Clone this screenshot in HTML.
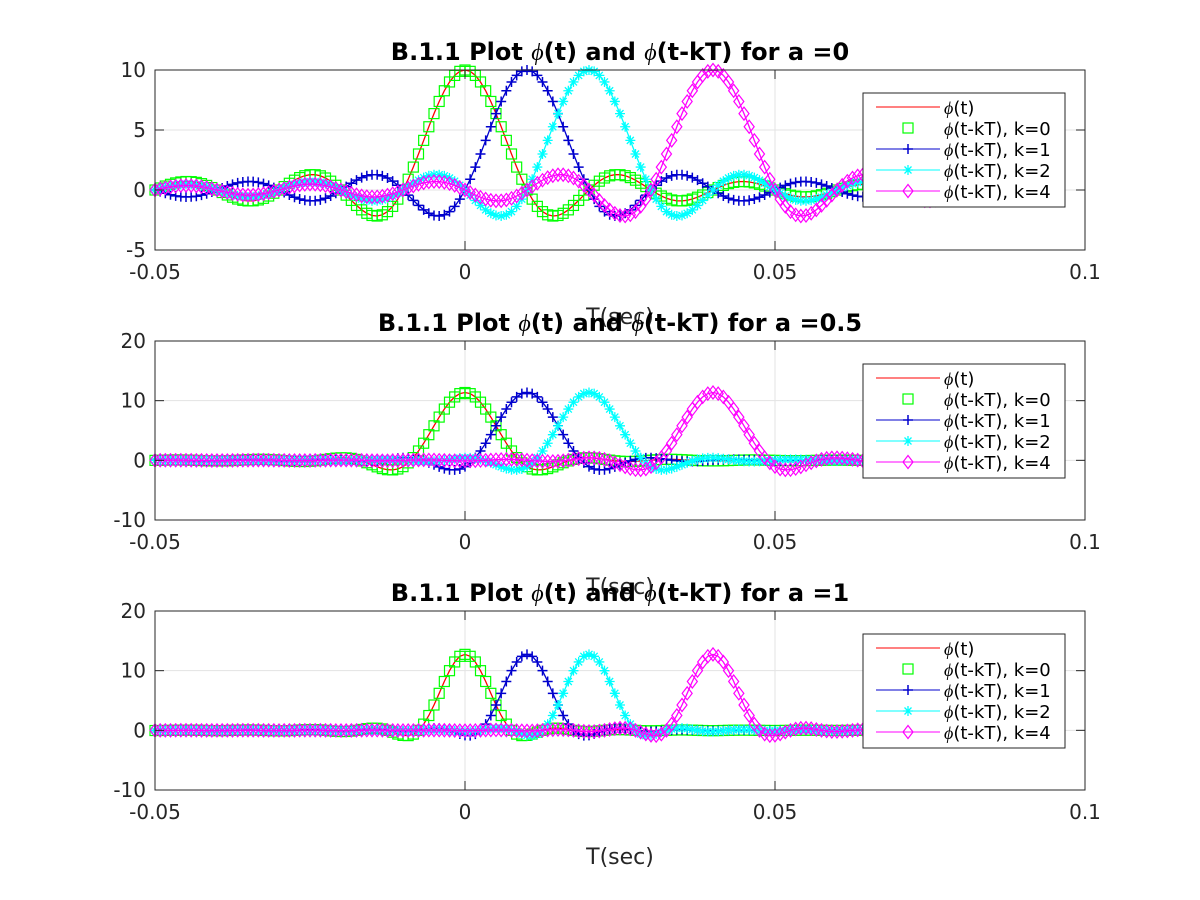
<!DOCTYPE html>
<html><head><meta charset="utf-8">
<style>
html,body{margin:0;padding:0;background:#fff;}
svg{display:block;font-family:"DejaVu Sans","Liberation Sans",sans-serif;}
</style></head>
<body>
<svg id="fig" width="1200" height="900" viewBox="0 0 1200 900"></svg>
<script>
// ---- data ----
const alphas = [0, 0.5, 1];
const titleAlphaLabels = ["0", "0.5", "1"];
const shifts = [0, 1, 2, 4];
const symbolPeriod = 0.01;
const tStart = -0.05;
const tEnd = 0.08;
const sampleStep = 0.01 / 12;
const xTicks = [-0.05, 0, 0.05, 0.1];
const xTickLabels = ["-0.05", "0", "0.05", "0.1"];
const yTicksTop = [-5, 0, 5, 10];
const yTicksOther = [-10, 0, 10, 20];
const yRanges = [[-5, 10], [-10, 20], [-10, 20]];
const legendLabels = ["(t)", "(t-kT), k=0", "(t-kT), k=1", "(t-kT), k=2", "(t-kT), k=4"];

// ---- layout ----
const NS = "http://www.w3.org/2000/svg";
const svg = document.getElementById("fig");
const axL = 155, axR = 1085;
const panels = [{top:70,bottom:250},{top:341,bottom:520},{top:611,bottom:790}];
const colors = ["#00ff00", "#0000cd", "#00ffff", "#ff00ff"];
const markers = ["square", "plus", "star", "diamond"];

function el(tag, attrs, parent){
  const e = document.createElementNS(NS, tag);
  for (const k in attrs) e.setAttribute(k, attrs[k]);
  (parent || svg).appendChild(e);
  return e;
}
function srrc(t, a, T){
  const x = t / T;
  const s = 1 / Math.sqrt(T);
  if (Math.abs(x) < 1e-9) return s * (1 - a + 4 * a / Math.PI);
  if (a > 0 && Math.abs(Math.abs(x) - 1 / (4 * a)) < 1e-9) {
    return s * (a / Math.SQRT2) * ((1 + 2 / Math.PI) * Math.sin(Math.PI / (4 * a)) + (1 - 2 / Math.PI) * Math.cos(Math.PI / (4 * a)));
  }
  const num = Math.sin(Math.PI * x * (1 - a)) + 4 * a * x * Math.cos(Math.PI * x * (1 + a));
  const den = Math.PI * x * (1 - Math.pow(4 * a * x, 2));
  return s * num / den;
}
function drawMarker(g, type, x, y, color, size){
  const r = size;
  if (type === "square") el("rect", {x:x-r, y:y-r, width:2*r, height:2*r, fill:"none", stroke:color, "stroke-width":1.2}, g);
  else if (type === "plus") el("path", {d:`M${x-r} ${y}H${x+r}M${x} ${y-r}V${y+r}`, stroke:color, "stroke-width":1.5, fill:"none"}, g);
  else if (type === "star") el("path", {d:`M${x-r} ${y}H${x+r}M${x} ${y-r}V${y+r}M${x-r*0.7} ${y-r*0.7}L${x+r*0.7} ${y+r*0.7}M${x-r*0.7} ${y+r*0.7}L${x+r*0.7} ${y-r*0.7}`, stroke:color, "stroke-width":1.3, fill:"none"}, g);
  else if (type === "diamond") el("path", {d:`M${x} ${y-r*1.3}L${x+r} ${y}L${x} ${y+r*1.3}L${x-r} ${y}Z`, stroke:color, "stroke-width":1.2, fill:"none"}, g);
}
function phiText(parent, x, y, size, rest, attrs){
  const t = el("text", Object.assign({x:x, y:y, "font-size":size}, attrs || {}), parent);
  const s = el("tspan", {"font-family":"'Liberation Serif',serif", "font-style":"italic"}, t);
  s.textContent = "ϕ";
  const r = el("tspan", {}, t);
  r.textContent = rest;
  return t;
}

panels.forEach((p, pi) => {
  const [y0, y1] = yRanges[pi];
  const xs = v => axL + (v - xTicks[0]) / (xTicks[3] - xTicks[0]) * (axR - axL);
  const ys = v => p.bottom - (v - y0) / (y1 - y0) * (p.bottom - p.top);
  const g = el("g", {});
  
  
  el("rect", {x:axL, y:p.top, width:axR-axL, height:p.bottom-p.top, fill:"#fff"}, g);
  const yt = pi === 0 ? yTicksTop : yTicksOther;
  xTicks.forEach(v => el("line", {x1:xs(v), x2:xs(v), y1:p.top, y2:p.bottom, stroke:"#e3e3e3", "stroke-width":1}, g));
  yt.forEach(v => el("line", {x1:axL, x2:axR, y1:ys(v), y2:ys(v), stroke:"#e3e3e3", "stroke-width":1}, g));
  const a = alphas[pi];
  const ts = [];
  for (let t = tStart; t <= tEnd + 1e-9; t += sampleStep) ts.push(t);
  const redPts = ts.map(t => xs(t).toFixed(1) + "," + ys(srrc(t, a, symbolPeriod)).toFixed(1)).join(" ");
  const red = el("polyline", {points:redPts, fill:"none", stroke:"#ff0000", "stroke-width":1.3}, g);
  
  
  shifts.forEach((k, si) => {
    const sg = el("g", {}, g);
    
    
    const pts = ts.map(t => [xs(t), ys(srrc(t - k * symbolPeriod, a, symbolPeriod))]);
    if (si > 0) el("polyline", {points:pts.map(q => q[0].toFixed(1)+","+q[1].toFixed(1)).join(" "), fill:"none", stroke:colors[si], "stroke-width":1.3}, sg);
    pts.forEach(q => drawMarker(sg, markers[si], q[0], q[1], colors[si], 5));
  });
  el("rect", {x:axL, y:p.top, width:axR-axL, height:p.bottom-p.top, fill:"none", stroke:"#262626", "stroke-width":1}, g);
  xTicks.forEach((v, i) => {
    el("line", {x1:xs(v), x2:xs(v), y1:p.bottom, y2:p.bottom-9, stroke:"#262626"}, g);
    el("line", {x1:xs(v), x2:xs(v), y1:p.top, y2:p.top+9, stroke:"#262626"}, g);
    const tl = el("text", {x:xs(v), y:p.bottom+29, "text-anchor":"middle", "font-size":20, fill:"#262626"}, g);
    tl.textContent = xTickLabels[i];
    
    
  });
  yt.forEach(v => {
    el("line", {x1:axL, x2:axL+9, y1:ys(v), y2:ys(v), stroke:"#262626"}, g);
    el("line", {x1:axR, x2:axR-9, y1:ys(v), y2:ys(v), stroke:"#262626"}, g);
    const tl = el("text", {x:axL-9, y:ys(v)+7, "text-anchor":"end", "font-size":20, fill:"#262626"}, g);
    tl.textContent = String(v);
    
    
  });
  const xl = el("text", {x:620, y:p.bottom+74, "text-anchor":"middle", "font-size":22, fill:"#262626"}, g);
  xl.textContent = "T(sec)";
  
  
  const ti = el("text", {x:620, y:p.top-10, "text-anchor":"middle", "font-size":24, "font-weight":"bold", fill:"#000"}, g);
  
  
  const parts = ["B.1.1 Plot ", "ϕ", "(t) and ", "ϕ", "(t-kT) for a =" + titleAlphaLabels[pi]];
  parts.forEach(s => {
    const sp = el("tspan", s === "ϕ" ? {"font-family":"'Liberation Serif',serif", "font-style":"italic", "font-weight":"normal"} : {}, ti);
    sp.textContent = s;
  });
  const lg = el("g", {}, g);
  
  
  const ly = p.top + 23;
  el("rect", {x:863, y:ly, width:202, height:114, fill:"#fff", stroke:"#262626", "stroke-width":1}, lg);
  legendLabels.forEach((lab, i) => {
    const ry = ly + 14 + i * 21;
    const e = el("g", {}, lg);
    
    
    if (i === 0) el("line", {x1:876, x2:940, y1:ry, y2:ry, stroke:"#ff0000"}, e);
    else {
      if (i > 1) el("line", {x1:876, x2:940, y1:ry, y2:ry, stroke:colors[i-1]}, e);
      drawMarker(e, markers[i-1], 908, ry, colors[i-1], 5);
    }
    phiText(e, 944, ry+7, 18, lab, {fill:"#000"});
  });
});
</script>
</body></html>
